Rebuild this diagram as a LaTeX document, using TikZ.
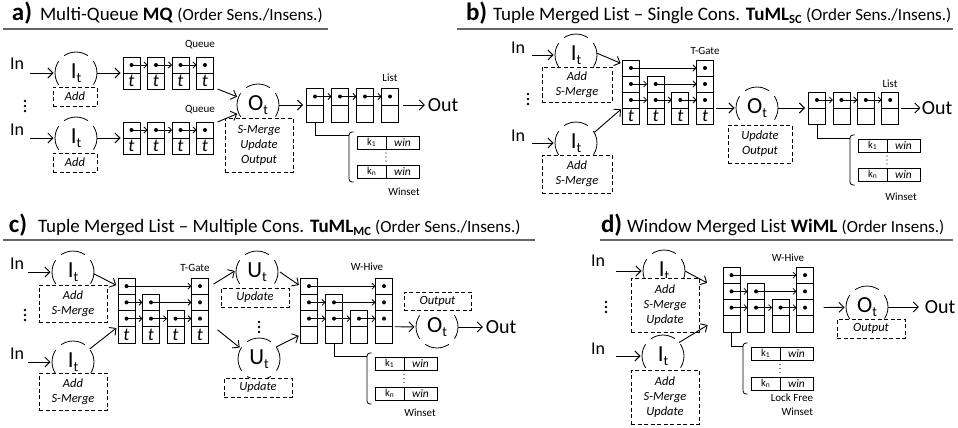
\documentclass[tikz,border=0pt]{standalone}
\usepackage{fontspec}
\setmainfont{Carlito}
\usetikzlibrary{arrows.meta,calc}
\newcommand{\msub}[1]{\raisebox{-4pt}{\fontsize{14}{14}\selectfont #1}}
\newcommand{\mksub}[1]{\raisebox{-1.5pt}{\fontsize{7.5}{7.5}\selectfont #1}}
\newcommand{\mtsub}[1]{\raisebox{-3pt}{\fontsize{12.5}{12.5}\selectfont\bfseries #1}}
\newcommand{\mparen}[1]{{\fontsize{17}{17}\selectfont #1}}
\newcommand{\mtfont}{\fontsize{18}{18}\selectfont\itshape}
\newcommand{\mdc}[4]{\node[cell,minimum height=#4pt] (#1) at ({#2},{#3}) {}; \fill (#1.center) circle (2pt);}
\newcommand{\mbc}[5]{\node[cell,minimum height=#4pt,font=\mtfont] (#1) at ({#2},{#3}) {#5};}
\newcommand{\mvd}[4]{\fill ({#1},{#2}) circle (#4); \fill ({#1},{#2+#3}) circle (#4); \fill ({#1},{#2+2*#3}) circle (#4);}
\newcommand{\mchain}[6]{%
  \foreach \i in {1,2,3,4}{%
    \mdc{#1\i}{#2+(\i-1)*#3}{#4-0.5*#5}{#5}
    \mbc{#1\i b}{#2+(\i-1)*#3}{#4+0.5*#5}{#5}{#6}
  }
  \draw[parr] (#11.center) -- (#12.west);
  \draw[parr] (#12.center) -- (#13.west);
  \draw[parr] (#13.center) -- (#14.west);
}
\newcommand{\mgate}[6]{%
  \mdc{#1a1}{#2}{#4+0.5*#5}{#5}
  \mdc{#1a2}{#2}{#4+1.5*#5}{#5}
  \mdc{#1a3}{#2}{#4+2.5*#5}{#5}
  \mbc{#1at}{#2}{#4+3.5*#5}{#5}{#6}
  \mdc{#1b2}{#2+#3}{#4+1.5*#5}{#5}
  \mdc{#1b3}{#2+#3}{#4+2.5*#5}{#5}
  \mbc{#1bt}{#2+#3}{#4+3.5*#5}{#5}{#6}
  \mdc{#1c3}{#2+2*#3}{#4+2.5*#5}{#5}
  \mbc{#1ct}{#2+2*#3}{#4+3.5*#5}{#5}{#6}
  \mdc{#1d1}{#2+3*#3}{#4+0.5*#5}{#5}
  \mdc{#1d2}{#2+3*#3}{#4+1.5*#5}{#5}
  \mdc{#1d3}{#2+3*#3}{#4+2.5*#5}{#5}
  \mbc{#1dt}{#2+3*#3}{#4+3.5*#5}{#5}{#6}
  \draw[parr] (#1a1.center) -- (#1d1.west);
  \draw[parr] (#1a2.center) -- (#1b2.west);
  \draw[parr] (#1b2.center) -- (#1d2.west);
  \draw[parr] (#1a3.center) -- (#1b3.west);
  \draw[parr] (#1b3.center) -- (#1c3.west);
  \draw[parr] (#1c3.center) -- (#1d3.west);
}
\newcommand{\mwinset}[5]{%
  \node[kbox] (#1k1) at ({#2},{#3}) {k\mksub{1}};
  \node[wbox] (#1w1) at ({#2+31},{#3}) {win};
  \node[kbox] (#1kn) at ({#2},{#4}) {k\mksub{n}};
  \node[wbox] (#1wn) at ({#2+31},{#4}) {win};
  \mvd{#2+14.5}{(#3+#4)/2-4}{4}{0.7pt}
  \coordinate (#1br) at ({#2-22.5},{#3-7});
  \draw[line width=0.8pt] (#5.south) |- (#1br);
  \draw[brk] ({#2-18},{#3-10.5}) -- ({#2-22.5},{#3-10.5}) -- ({#2-22.5},{#4+10.5}) -- ({#2-18},{#4+10.5});
}
\begin{document}
\begin{tikzpicture}[x=1pt,y=-1pt,
  every node/.style={inner sep=0pt,outer sep=0pt},
  cell/.style={draw,line width=0.8pt,minimum width=17pt},
  dcirc/.style={circle,draw,line width=0.8pt,minimum size=42pt,dash pattern=on 25pt off 8pt,dash phase=12.5pt,font=\fontsize{23}{23}\selectfont},
  dbox/.style={draw,fill=white,line width=0.8pt,dash pattern=on 4pt off 2.5pt,align=center,font=\fontsize{12.5}{15}\selectfont\itshape},
  arr/.style={-{Straight Barb[length=5pt,width=10pt]},line width=0.9pt,shorten >=1.5pt},
  parr/.style={-{Straight Barb[length=3pt,width=6pt]},line width=0.8pt},
  lbl/.style={font=\fontsize{18}{18}\selectfont},
  outl/.style={font=\fontsize{20}{20}\selectfont},
  smalllbl/.style={font=\fontsize{11}{11}\selectfont},
  kbox/.style={draw,line width=0.7pt,minimum width=29pt,minimum height=13pt,font=\fontsize{10.5}{10.5}\selectfont},
  wbox/.style={draw,line width=0.7pt,minimum width=33pt,minimum height=13pt,font=\fontsize{11.5}{11.5}\selectfont\itshape},
  ttl/.style={anchor=base west,font=\fontsize{25}{25}\selectfont\bfseries},
  ttx/.style={anchor=base west,font=\fontsize{19}{19}\selectfont},
  uline/.style={line width=1.3pt,black!60},
  brk/.style={line width=0.8pt,rounded corners=3pt},
]
\useasboundingbox (0,0) rectangle (958,428);

% ================= PANEL A =================
\node[ttl] (tla) at (12,21) {a)};
\node[ttx] (txa) at (40,21) {Multi-Queue \textbf{MQ} \mparen{(Order Sens./Insens.)}};
\draw[uline] (3,29) -- (328,29);
\node[lbl] (ina1) at (17,64) {In};
\node[lbl] (ina2) at (17,130) {In};
\coordinate (sa1) at (30,73);
\coordinate (sa2) at (30,138);
\node[dcirc] (ia1) at (76,73) {I\msub{t}};
\node[dcirc] (ia2) at (76,138) {I\msub{t}};
\node[dbox,minimum width=44pt,minimum height=19pt] (ada1) at (75,96.5) {Add};
\node[dbox,minimum width=44pt,minimum height=19pt] (ada2) at (75,162.5) {Add};
\draw[arr] (sa1) -- (ia1);
\draw[arr] (sa2) -- (ia2);
\mvd{25}{101}{5}{1.3pt}
\mchain{qa}{131.5}{24.5}{73}{16}{t}
\mchain{qb}{131.5}{24.5}{138}{16}{t}
\draw[arr,shorten >=2.5pt] (ia1) -- (qa1.south west);
\draw[arr,shorten >=2.5pt] (ia2) -- (qb1.south west);
\node[smalllbl] (qla) at (200,45) {Queue};
\node[smalllbl] (qlb) at (200,110) {Queue};
\node[dcirc] (oa) at (258,105) {O\msub{t}};
\node[dbox,minimum width=68pt,minimum height=54pt] (sma) at (259,145) {S-Merge\\Update\\Output};
\draw[arr] ($(qa4b.south east)+(4,0)$) -- (oa);
\draw[arr] ($(qb4.north east)+(4,0)$) -- (oa);
\mchain{la}{315}{25}{105}{17}{}
\draw[arr,shorten >=3.5pt] (oa) -- (la1.south west);
\node[smalllbl] (lla) at (390,78) {List};
\node[outl] (outa) at (443,105) {Out};
\draw[arr,shorten <=4pt,shorten >=3pt] (la4.south east) -- (outa);
\mwinset{wa}{371.5}{142.5}{171.5}{la1b}
\node[smalllbl] (wsa) at (404,192) {Winset};

% ================= PANEL B =================
\node[ttl] (tlb) at (466,21) {b)};
\node[ttx] (txb) at (493,21) {Tuple Merged List – Single Cons. \textbf{TuML}\mtsub{SC} \mparen{(Order Sens./Insens.)}};
\draw[uline] (457,29) -- (953,29);
\node[lbl] (inb1) at (518,48) {In};
\node[lbl] (inb2) at (518,136) {In};
\coordinate (sb1) at (532,55);
\coordinate (sb2) at (532,143);
\node[dcirc] (ib1) at (576,55) {I\msub{t}};
\node[dcirc] (ib2) at (576,143) {I\msub{t}};
\node[dbox,minimum width=70pt,minimum height=35pt] (adb1) at (577,84.5) {Add\\S-Merge};
\node[dbox,minimum width=70pt,minimum height=38pt] (adb2) at (577,174) {Add\\S-Merge};
\draw[arr] (sb1) -- (ib1);
\draw[arr] (sb2) -- (ib2);
\mvd{528}{94}{5}{1.3pt}
\mgate{tb}{631}{24.67}{60}{16}{t}
\draw[arr,shorten >=2pt] (ib1.5) -- ($(tba1.north west)!0.5!(tba1.west)$);
\draw[arr,shorten >=2pt] (ib2.30) -- (tba3.south west);
\node[smalllbl] (tgb) at (705,51) {T-Gate};
\node[dcirc] (ob) at (757,108) {O\msub{t}};
\node[dbox,minimum width=64pt,minimum height=38pt] (uob) at (760,144) {Update\\Output};
\draw[arr,shorten <=2pt] (tbd3.south east) -- (ob);
\mchain{lb}{817}{24.4}{108}{16}{}
\draw[arr,shorten >=3.5pt] (ob) -- (lb1.south west);
\node[smalllbl] (llb) at (890,84) {List};
\node[outl] (outb) at (937,108) {Out};
\draw[arr,shorten <=2pt] (lb4.south east) -- (outb);
\mwinset{wb}{872.5}{145.5}{174.5}{lb1b}
\node[smalllbl] (wsb) at (901,197) {Winset};

% ================= PANEL C =================
\node[ttl] (tlc) at (9,232) {c)};
\node[ttx] (txc) at (38,232) {Tuple Merged List – Multiple Cons. \textbf{TuML}\mtsub{MC} \mparen{(Order Sens./Insens.)}};
\draw[uline] (3,240) -- (535,240);
\node[lbl] (inc1) at (17,264) {In};
\node[lbl] (inc2) at (17,354) {In};
\coordinate (sc1) at (28,272);
\coordinate (sc2) at (28,362);
\node[dcirc] (ic1) at (73,272) {I\msub{t}};
\node[dcirc] (ic2) at (73,362) {I\msub{t}};
\node[dbox,minimum width=68pt,minimum height=37pt] (adc1) at (73,303.5) {Add\\S-Merge};
\node[dbox,minimum width=68pt,minimum height=37pt] (adc2) at (73,391.5) {Add\\S-Merge};
\draw[arr] (sc1) -- (ic1);
\draw[arr] (sc2) -- (ic2);
\mvd{25}{310}{5}{1.3pt}
\mgate{tc}{126.5}{24.5}{278}{16.25}{t}
\draw[arr,shorten >=2pt] (ic1.-5) -- (tca1.west);
\draw[arr,shorten >=2pt] (ic2.38) -- (tca3.south west);
\node[smalllbl] (tgc) at (195,268) {T-Gate};
\node[dcirc] (uc1) at (257,272) {U\msub{t}};
\node[dcirc] (uc2) at (259,359) {U\msub{t}};
\node[dbox,minimum width=68pt,minimum height=19pt] (upc1) at (255,297.5) {Update};
\node[dbox,minimum width=68pt,minimum height=19pt] (upc2) at (258,387.5) {Update};
\draw[arr] ($(tcd1.east)+(5,-2)$) -- (uc1.175);
\draw[arr] ($(tcdt.north east)+(9,3)$) -- (uc2.150);
\mvd{259}{322}{5}{1.3pt}
\mgate{wc}{309}{25}{278}{16.25}{}
\draw[arr,shorten >=2pt] ($(uc1.east)+(2,0)$) -- (wca1.west);
\draw[arr,shorten >=2pt] (uc2.35) -- (wcat.west);
\node[smalllbl] (whc) at (367,267) {W-Hive};
\mwinset{wsc}{389.5}{363.5}{393.5}{wcbt}
\node[smalllbl] (wslc) at (420,413) {Winset};
\node[dcirc] (oc) at (437,327) {O\msub{t}};
\node[dbox,minimum width=67pt,minimum height=18pt] (opc) at (437.5,301) {Output};
\draw[arr,shorten <=2pt] (wcd3.south east) -- (oc);
\node[outl] (outc) at (501,327) {Out};
\draw[arr,shorten >=3pt] (oc) -- (outc);

% ================= PANEL D =================
\node[ttl] (tld) at (601,232) {d)};
\node[ttx] (txd) at (627,232) {Window Merged List \textbf{WiML} \mparen{(Order Insens.)}};
\draw[uline] (600,240) -- (953,240);
\node[lbl] (ind1) at (598,261) {In};
\node[lbl] (ind2) at (598,349) {In};
\coordinate (sd1) at (616,271);
\coordinate (sd2) at (616,356);
\node[dcirc] (id1) at (664,271) {I\msub{t}};
\node[dcirc] (id2) at (663,356) {I\msub{t}};
\node[dbox,minimum width=68pt,minimum height=54pt] (add1) at (665,305) {Add\\S-Merge\\Update};
\node[dbox,minimum width=68pt,minimum height=54pt] (add2) at (665,397) {Add\\S-Merge\\Update};
\draw[arr] (sd1) -- (id1);
\draw[arr] (sd2) -- (id2);
\mvd{606}{302}{5}{1.3pt}
\mgate{wd}{731.5}{24.5}{267}{16.25}{}
\draw[arr,shorten >=18pt] (id1.east) -- (wda2.west);
\draw[arr,shorten >=18pt] (id2.40) -- (wdat.north west);
\node[smalllbl] (whd) at (788,258) {W-Hive};
\node[dcirc] (od) at (867,307) {O\msub{t}};
\node[dbox,minimum width=68pt,minimum height=19pt] (opd) at (871,328.5) {Output};
\draw[arr,shorten <=10pt] (wdd3.east) -- (od);
\node[outl] (outd) at (940,307) {Out};
\draw[arr,shorten >=6pt] (od) -- (outd);
\mwinset{wsd}{765.5}{353.5}{383.5}{wdat}
\node[smalllbl,align=right,anchor=north east,font=\fontsize{11}{14}\selectfont] (lfd) at (813,394) {Lock Free\\Winset};
\end{tikzpicture}
\end{document}
